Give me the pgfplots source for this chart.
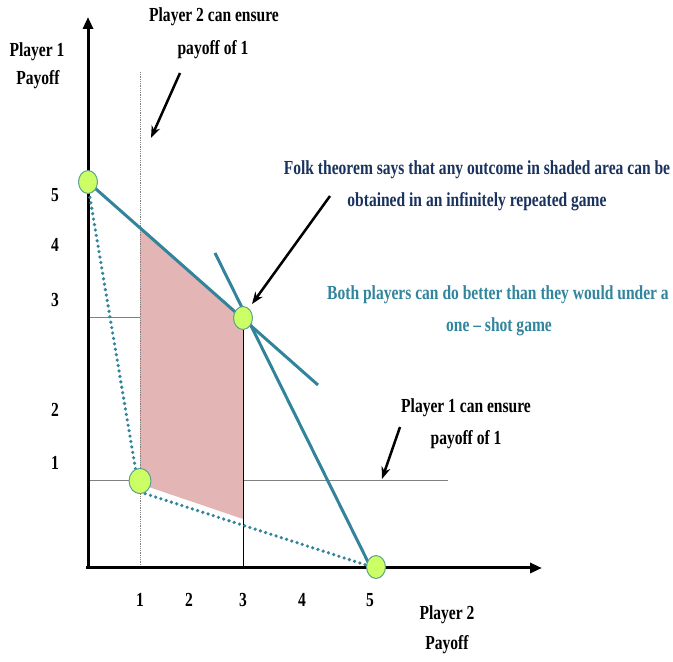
\documentclass[border=0pt]{standalone}
\usepackage{pgfplots}
\pgfplotsset{compat=1.18}
\usepackage{fontspec}
\setmainfont{Liberation Serif}[FakeStretch=0.78]
\usetikzlibrary{arrows.meta}
\definecolor{tealc}{RGB}{49,132,155}
\definecolor{limec}{RGB}{204,255,102}
\definecolor{circb}{RGB}{90,160,140}
\definecolor{pinkc}{RGB}{227,181,181}
\definecolor{navyc}{RGB}{26,50,94}
\definecolor{tealt}{RGB}{49,133,156}
\tikzset{lbl/.style={font=\fontsize{20}{23}\selectfont\bfseries,inner sep=0pt}}
\begin{document}
\begin{tikzpicture}
\begin{axis}[x=1bp,y=1bp,xmin=0,xmax=673,ymin=0,ymax=662,hide axis,clip=false,scale only axis]
\path (axis cs:0,0) rectangle (axis cs:673,662);
% thin guide lines
\addplot[gray,line width=1bp] coordinates {(88,181) (448,181)};
\addplot[gray,line width=1bp] coordinates {(88,344) (140,344)};
% shaded area
\addplot[fill=pinkc,draw=none] coordinates {(140,436) (238,349) (243,344) (243,143) (140,178)} --cycle;
\addplot[black,line width=0.8bp] coordinates {(243,344) (243,94)};
\addplot[gray,line width=0.8bp,densely dotted] coordinates {(140,590) (140,94)};
% axes
\addplot[black,line width=3bp,-{Triangle[length=12bp,width=10bp]}] coordinates {(88,94) (88,645)};
\addplot[black,line width=3bp,-{Triangle[length=12bp,width=10bp]}] coordinates {(86,94) (542,94)};
% teal lines
\addplot[tealc,line width=3bp] coordinates {(88,480) (318,277)};
\addplot[tealc,line width=3bp] coordinates {(215,409) (370,96)};
\addplot[tealc,line width=3.6bp,line cap=round,dash pattern=on 0bp off 5.5bp] coordinates {(89,470) (136,190)};
\addplot[tealc,line width=3.6bp,line cap=round,dash pattern=on 0bp off 5.5bp] coordinates {(140,170) (366,97)};
% points
\addplot[only marks,mark=*,mark size=10,mark options={fill=limec,draw=circb,line width=1bp,xscale=0.95,yscale=1.15}]
  coordinates {(88,480) (243,344) (376,95)};
\addplot[only marks,mark=*,mark size=11,mark options={fill=limec,draw=circb,line width=1bp,xscale=1,yscale=1.15}]
  coordinates {(140,181)};
% arrows
\addplot[black,line width=2.5bp,-{Stealth[length=12bp,width=9bp]}] coordinates {(180,589) (151,524)};
\addplot[black,line width=2.5bp,-{Stealth[length=12bp,width=9bp]}] coordinates {(330,466) (252,358)};
\addplot[black,line width=2.5bp,-{Stealth[length=12bp,width=9bp]}] coordinates {(400,235) (382,183)};
% texts
\node[lbl] at (axis cs:214,645) {Player 2 can ensure};
\node[lbl] at (axis cs:213,612) {payoff of 1};
\node[lbl] at (axis cs:37,610) {Player 1};
\node[lbl] at (axis cs:38,582) {Payoff};
\node[lbl,text=navyc] at (axis cs:477,492) {Folk theorem says that any outcome in shaded area can be};
\node[lbl,text=navyc] at (axis cs:477,460) {obtained in an infinitely repeated game};
\node[lbl,text=tealt] at (axis cs:498,367) {Both players can do better than they would under a};
\node[lbl,text=tealt] at (axis cs:499,335) {one – shot game};
\node[lbl] at (axis cs:466,254) {Player 1 can ensure};
\node[lbl] at (axis cs:466,222) {payoff of 1};
\node[lbl] at (axis cs:447,47) {Player 2};
\node[lbl] at (axis cs:447,17) {Payoff};
% tick labels
\node[lbl] at (axis cs:140,62) {1};
\node[lbl] at (axis cs:189,62) {2};
\node[lbl] at (axis cs:243,62) {3};
\node[lbl] at (axis cs:302,62) {4};
\node[lbl] at (axis cs:370,62) {5};
\node[lbl] at (axis cs:55,467) {5};
\node[lbl] at (axis cs:55,417) {4};
\node[lbl] at (axis cs:55,362) {3};
\node[lbl] at (axis cs:55,252) {2};
\node[lbl] at (axis cs:55,199) {1};
\end{axis}
\end{tikzpicture}
\end{document}
